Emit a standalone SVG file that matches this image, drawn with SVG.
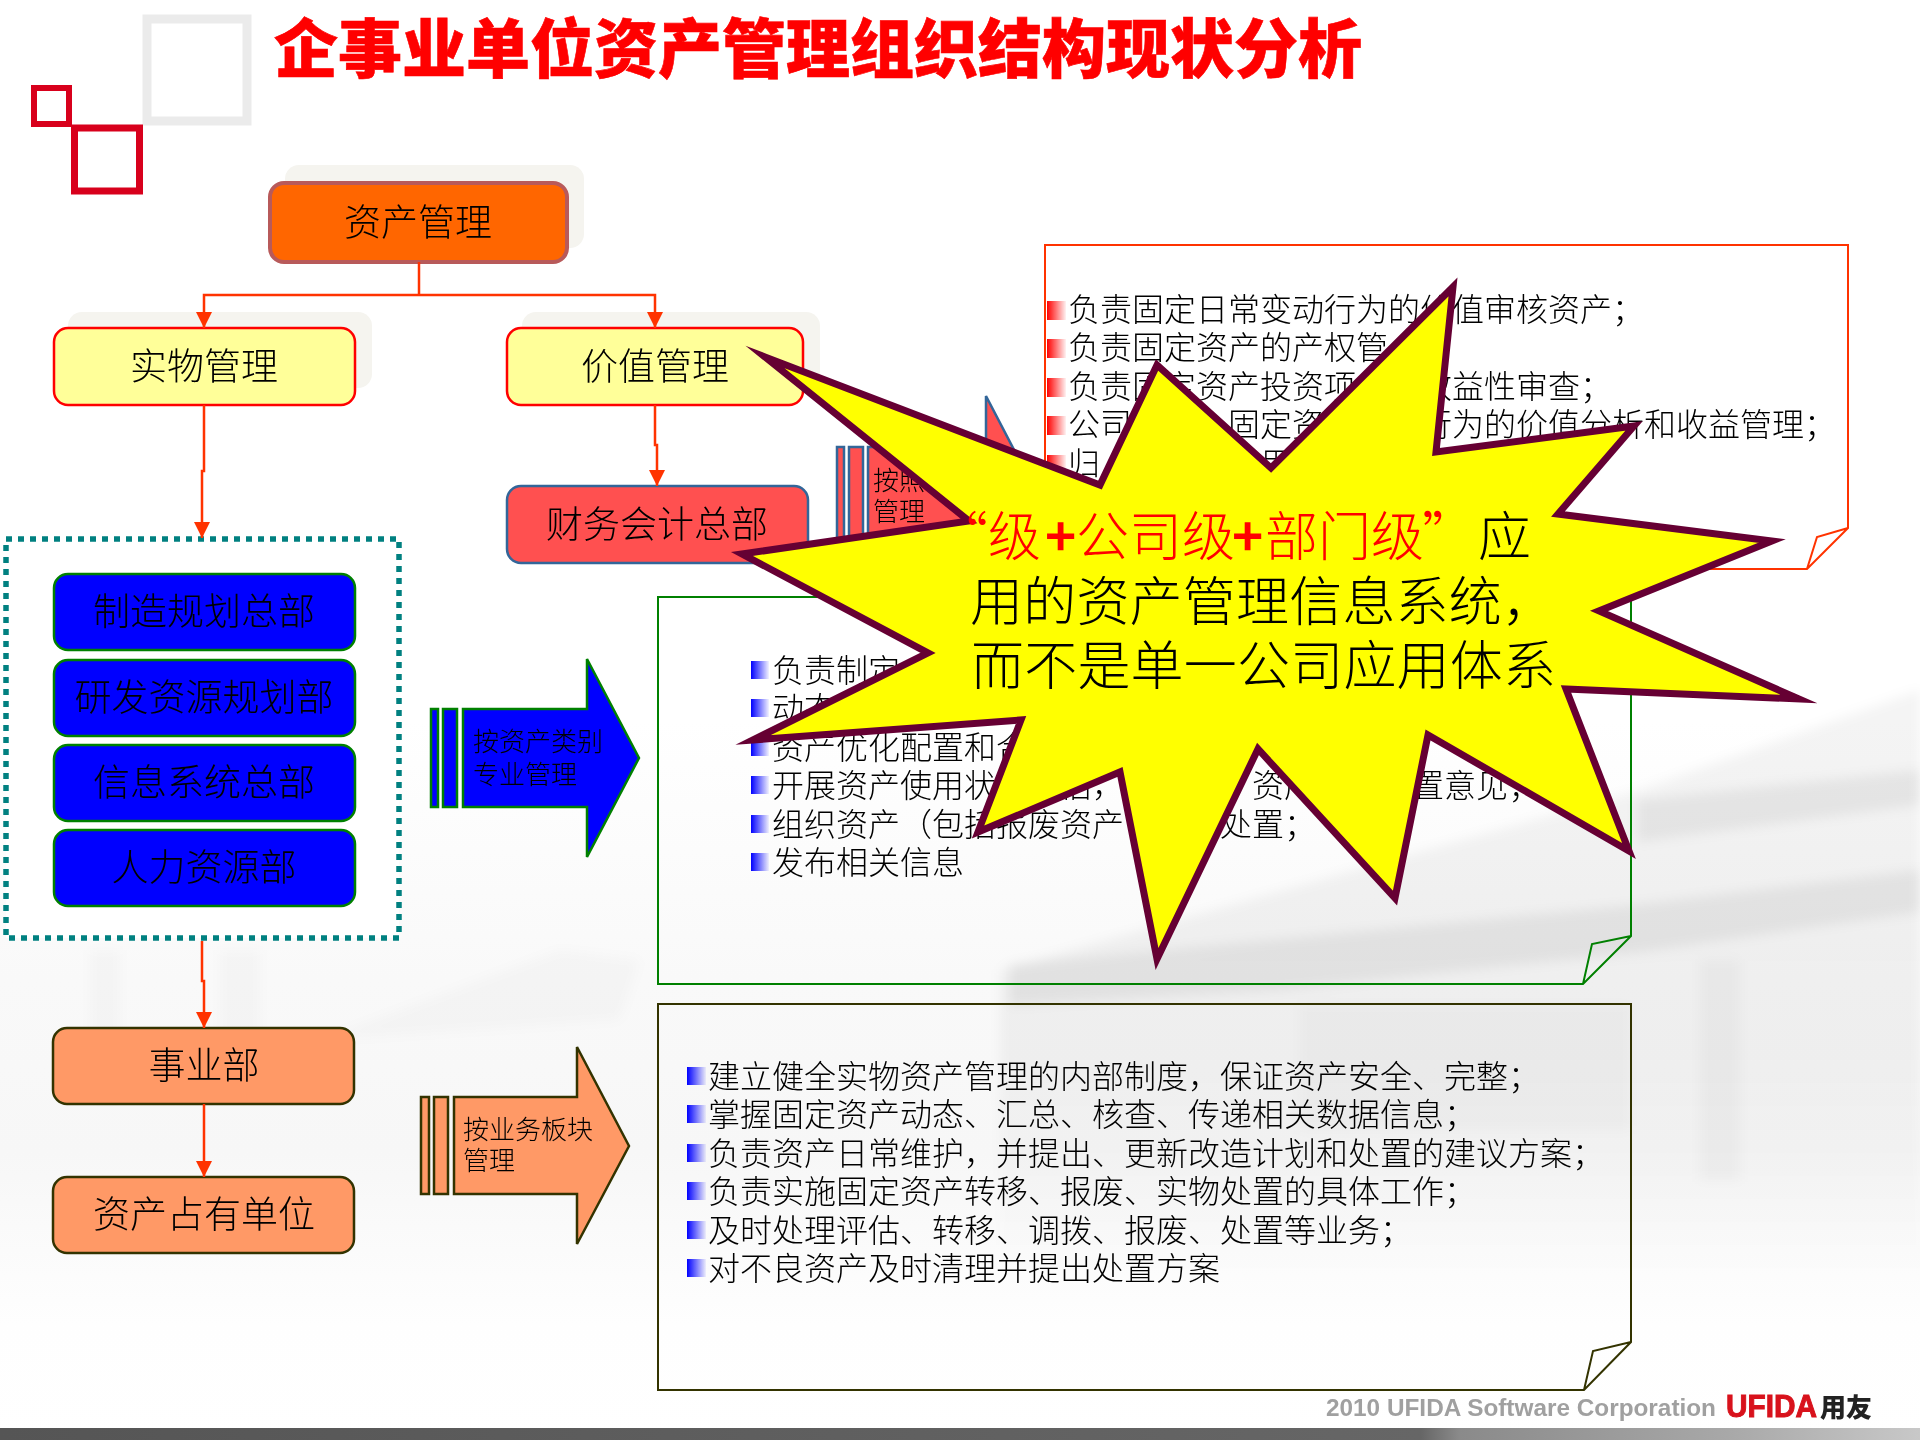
<svg xmlns="http://www.w3.org/2000/svg" width="1920" height="1440" viewBox="0 0 1920 1440">
<style>
text{font-family:"Noto Sans CJK SC","Noto Sans",sans-serif;fill:#000;font-weight:300}
.nl{font-size:37px;text-anchor:middle}
.al{font-size:26px}
.bl{font-size:32px}
.sl{font-size:53px}
.shadow{fill:#f5f4ef}
.conn{fill:none;stroke:#ff3300;stroke-width:2.5;marker-end:url(#ah)}
.link{fill:none;stroke:#ff3300;stroke-width:2.5}
.note{fill:none;stroke-width:2}
.noteb{stroke:#333300}
.yel{fill:#ffff99;stroke:#ff0000;stroke-width:2.5}
.blu{fill:#0000ff;stroke:#008000;stroke-width:2.5}
.ora{fill:#ff9966;stroke:#333300;stroke-width:2.5}
.grn{fill:#0000ff;stroke:#008000;stroke-width:2.5}
.red{fill:#ff5050;stroke:#336699;stroke-width:2.5}
</style>
<defs>
<marker id="ah" markerUnits="userSpaceOnUse" markerWidth="18" markerHeight="16" refX="16" refY="8" orient="auto"><path d="M0,0L16,8L0,16Z" fill="#ff3300"/></marker>
<linearGradient id="bb"><stop offset="0" stop-color="#0000ff"/><stop offset="1" stop-color="#0000ff" stop-opacity=".05"/></linearGradient>
<linearGradient id="br"><stop offset="0" stop-color="#ff0000"/><stop offset="1" stop-color="#ff0000" stop-opacity=".05"/></linearGradient>
<linearGradient id="bg" x1="0" y1="0" x2="0" y2="1"><stop offset="0" stop-color="#fff"/><stop offset=".5" stop-color="#fff"/><stop offset=".68" stop-color="#f9f9f9"/><stop offset=".8" stop-color="#f7f7f7"/><stop offset=".92" stop-color="#fefefe"/><stop offset="1" stop-color="#fff"/></linearGradient>
<linearGradient id="bar"><stop offset="0" stop-color="#555"/><stop offset=".74" stop-color="#666"/><stop offset=".76" stop-color="#8a8a8a"/><stop offset=".9" stop-color="#a8a8a8"/><stop offset="1" stop-color="#c8c8c8"/></linearGradient>
<linearGradient id="fade" x1="0" y1="0" x2="0" y2="1"><stop offset="0" stop-color="#000" stop-opacity=".045"/><stop offset=".6" stop-color="#000" stop-opacity=".04"/><stop offset="1" stop-color="#000" stop-opacity="0"/></linearGradient>
<filter id="blur" x="-5%" y="-5%" width="110%" height="110%"><feGaussianBlur stdDeviation="6"/></filter>
</defs>

<g id="background">
<rect width="1920" height="1440" fill="url(#bg)"/>
<g filter="url(#blur)">
<path d="M1000,970L1640,790L1920,690V1280H1000Z" fill="url(#fade)"/>
<path d="M1637,800L1920,770V805L1637,842Z" fill="#000" opacity=".06"/>
<path d="M1010,965L1634,905L1920,870V912L1640,952L1280,990L1010,1005Z" fill="#000" opacity=".06"/>
<path d="M1300,1005H1630V1130H1300Z" fill="#000" opacity=".025"/>
<path d="M1700,960H1740V1180H1700Z" fill="#000" opacity=".03"/>
<path d="M320,1040L560,950L640,960L620,1020Z" fill="#000" opacity=".02"/>
<path d="M90,950H120V1100H90ZM220,950H260V1060H220Z" fill="#000" opacity=".02"/>
</g>
<rect y="1428" width="1920" height="12" fill="url(#bar)"/>
</g>

<g id="logo" fill="none">
<rect x="147" y="19" width="100" height="102" stroke="#ebebeb" stroke-width="9"/>
<rect x="34" y="88" width="35" height="36" stroke="#d8001c" stroke-width="6"/>
<rect x="74.500" y="128" width="65" height="63" stroke="#d8001c" stroke-width="7"/>
</g>

<g id="title"><text x="274" y="72" font-size="64" style="font-weight:900;fill:#ff0000;stroke:#ff0000;stroke-width:.6">企事业单位资产管理组织结构现状分析</text></g>

<g id="node-asset">
<rect class="shadow" x="285" y="165" width="299" height="83" rx="14"/>
<rect x="270" y="183" width="297" height="79" rx="14" fill="#ff6600" stroke="#b85a5a" stroke-width="4"/>
<text class="nl" x="418" y="236">资产管理</text>
</g>
<g id="node-physical">
<rect class="shadow" x="68" y="312" width="304" height="76" rx="14"/>
<rect class="yel" x="54" y="328" width="301" height="77" rx="14"/>
<text class="nl" x="204" y="380">实物管理</text>
</g>
<g id="node-value">
<rect class="shadow" x="522" y="312" width="298" height="76" rx="14"/>
<rect class="yel" x="507" y="328" width="296" height="77" rx="14"/>
<text class="nl" x="655" y="380">价值管理</text>
</g>
<g id="node-finance">
<rect class="red" x="507" y="486" width="301" height="77" rx="14"/>
<text class="nl" x="657" y="538">财务会计总部</text>
</g>
<g id="node-group">
<rect x="6" y="539" width="393" height="399" fill="#fff" stroke="#008080" stroke-width="5.500" stroke-dasharray="6 6"/>
</g>
<g id="node-manufacturing"><rect class="blu" x="54" y="574" width="301" height="76" rx="14"/><text class="nl" x="204" y="625">制造规划总部</text></g>
<g id="node-rd"><rect class="blu" x="54" y="660" width="301" height="76" rx="14"/><text class="nl" x="204" y="711">研发资源规划部</text></g>
<g id="node-it"><rect class="blu" x="54" y="745" width="301" height="76" rx="14"/><text class="nl" x="204" y="796">信息系统总部</text></g>
<g id="node-hr"><rect class="blu" x="54" y="830" width="301" height="76" rx="14"/><text class="nl" x="204" y="881">人力资源部</text></g>
<g id="node-division"><rect class="ora" x="53" y="1028" width="301" height="76" rx="14"/><text class="nl" x="204" y="1079">事业部</text></g>
<g id="node-holder"><rect class="ora" x="53" y="1177" width="301" height="76" rx="14"/><text class="nl" x="204" y="1228">资产占有单位</text></g>

<g id="connectors">
<path class="link" d="M419,262V295"/>
<path class="conn" d="M419,295H204V328"/>
<path class="conn" d="M419,295H655V328"/>
<path class="conn" d="M204,405V471H202V538"/>
<path class="conn" d="M655,405V445H657V486"/>
<path class="conn" d="M202,941V981H204V1028"/>
<path class="conn" d="M204,1104V1177"/>
</g>

<g id="arrow-value">
<rect class="red" x="837" y="447" width="7" height="98"/>
<rect class="red" x="849" y="447" width="14" height="98"/>
<path class="red" d="M868,447H986V396L1038,496L986,596V545H868Z"/>
<text class="al" x="873" y="490">按照</text>
<text class="al" x="873" y="521">管理</text>
</g>
<g id="arrow-category">
<rect class="grn" x="431" y="709" width="7" height="98"/>
<rect class="grn" x="443" y="709" width="14" height="98"/>
<path class="grn" d="M463,709H587V659L639,758L587,857V807H463Z"/>
<text class="al" x="473" y="751">按资产类别</text>
<text class="al" x="473" y="784">专业管理</text>
</g>
<g id="arrow-business">
<rect class="ora" x="421" y="1097" width="8" height="97"/>
<rect class="ora" x="434" y="1097" width="14" height="97"/>
<path class="ora" d="M454,1097H577V1047L629,1146L577,1244V1194H454Z"/>
<text class="al" x="463" y="1139">按业务板块</text>
<text class="al" x="463" y="1170">管理</text>
</g>

<g id="note-value">
<path class="note" stroke="#ff3300" d="M1045,245H1848V528L1807,569H1045ZM1848,528L1817,537L1807,569"/>
<g fill="url(#br)">
<rect x="1047" y="301" width="19" height="19"/><rect x="1047" y="339" width="19" height="19"/><rect x="1047" y="378" width="19" height="19"/><rect x="1047" y="416" width="19" height="19"/><rect x="1047" y="455" width="19" height="19"/>
</g>
<text class="bl" x="1068" y="321">负责固定日常变动行为的价值审核资产；</text>
<text class="bl" x="1068" y="359">负责固定资产的产权管</text>
<text class="bl" x="1068" y="398">负责固定资产投资项<tspan x="1420">效益性审查；</tspan></text>
<text class="bl" x="1068" y="436">公司<tspan x="1228">固定资</tspan><tspan x="1420">行为的价值分析和收益管理；</tspan></text>
<text class="bl" x="1068" y="475">归<tspan x="1260">用</tspan></text>
</g>

<g id="note-category">
<path class="note" stroke="#008000" d="M658,597H1631V936L1583,984H658ZM1631,936L1592,944L1583,984"/>
<g fill="url(#bb)">
<rect x="751" y="661" width="18" height="18"/><rect x="751" y="699" width="18" height="18"/><rect x="751" y="738" width="18" height="18"/><rect x="751" y="776" width="18" height="18"/><rect x="751" y="815" width="18" height="18"/><rect x="751" y="853" width="18" height="18"/>
</g>
<text class="bl" x="772" y="682">负责制定</text>
<text class="bl" x="772" y="720">动态</text>
<text class="bl" x="772" y="759">资产优化配置和合</text>
<text class="bl" x="772" y="797">开展资产使用状况评估，<tspan x="1252">资产</tspan><tspan x="1412">置意见；</tspan></text>
<text class="bl" x="772" y="836">组织资产（包括报废资产<tspan x="1220">处置；</tspan></text>
<text class="bl" x="772" y="874">发布相关信息</text>
</g>

<g id="note-business">
<path class="note noteb" d="M658,1004H1631V1342L1584,1390H658ZM1631,1342L1593,1351L1584,1390"/>
<g fill="url(#bb)">
<rect x="687" y="1067" width="19" height="18"/><rect x="687" y="1105" width="19" height="18"/><rect x="687" y="1144" width="19" height="18"/><rect x="687" y="1182" width="19" height="18"/><rect x="687" y="1221" width="19" height="18"/><rect x="687" y="1259" width="19" height="18"/>
</g>
<text class="bl" x="708" y="1088">建立健全实物资产管理的内部制度，保证资产安全、完整；</text>
<text class="bl" x="708" y="1126">掌握固定资产动态、汇总、核查、传递相关数据信息；</text>
<text class="bl" x="708" y="1165">负责资产日常维护，并提出、更新改造计划和处置的建议方案；</text>
<text class="bl" x="708" y="1203">负责实施固定资产转移、报废、实物处置的具体工作；</text>
<text class="bl" x="708" y="1242">及时处理评估、转移、调拨、报废、处置等业务；</text>
<text class="bl" x="708" y="1280">对不良资产及时清理并提出处置方案</text>
</g>

<g id="footer">
<text x="1326" y="1416" font-size="24" textLength="390" lengthAdjust="spacingAndGlyphs" style="font-family:'Liberation Sans',sans-serif;font-weight:700;fill:#a0a0a0">2010 UFIDA Software Corporation</text>
<text x="1726" y="1417" font-size="32" textLength="91" lengthAdjust="spacingAndGlyphs" style="font-family:'Liberation Sans',sans-serif;font-weight:700;fill:#d8121c;stroke:#d8121c;stroke-width:1">UFIDA</text>
<text x="1820" y="1417" font-size="26" style="font-weight:900;fill:#222">用友</text>
</g>

<g id="callout">
<path d="M765,357L1100,485L1157,365L1271,468L1453,287L1436,452L1634,426L1558,514L1772,541L1599,611L1799,699L1566,689L1629,851L1428,735L1395,898L1258,749L1157,959L1120,772L978,832L1021,720L753,740L928,653L742,554L969,521Z" fill="#ffff00" stroke="#660033" stroke-width="7" stroke-miterlimit="20"/>
<text class="sl" y="556" style="fill:#ff0000"><tspan x="935">“</tspan><tspan x="988">级</tspan><tspan x="1045" style="font-weight:700">+</tspan><tspan x="1076">公司级</tspan><tspan x="1232" style="font-weight:700">+</tspan><tspan x="1265">部门级</tspan><tspan x="1422">”</tspan><tspan x="1478" style="fill:#000">应</tspan></text>
<text class="sl" x="970" y="621" style="letter-spacing:.2px">用的资产管理信息系统，</text>
<text class="sl" x="971" y="685" style="letter-spacing:.2px">而不是单一公司应用体系</text>
</g>
</svg>
